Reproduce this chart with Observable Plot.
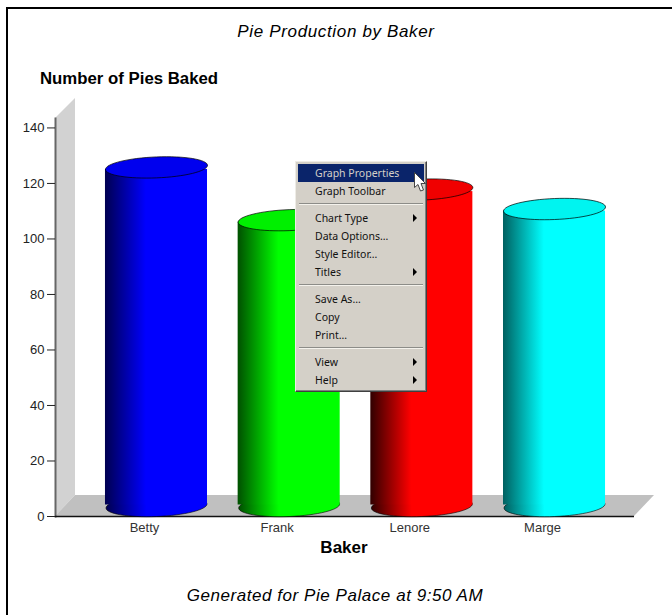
<!DOCTYPE html>
<html><head><meta charset="utf-8">
<script src="https://cdn.jsdelivr.net/npm/d3@7"></script>
<script src="https://cdn.jsdelivr.net/npm/@observablehq/plot@0.6"></script>
<style>
html,body{margin:0;padding:0;background:#fff}
#page{position:relative;width:672px;height:615px;overflow:hidden;font-family:"Liberation Sans",Arial,sans-serif;color:#000}
#page svg.plot{position:absolute;left:0;top:0}
.border{position:absolute;background:#000}
.t{position:absolute;font-size:17px;line-height:18px;white-space:nowrap}
.c{transform:translateX(-50%)}
#menu{position:absolute;left:295px;top:161px;width:132px;height:231px;box-sizing:border-box;background:#d4d0c8;
 border:1px solid;border-color:#eeece6 #404040 #404040 #eeece6;box-shadow:inset -1px -1px 0 #808080;
 font-family:"Noto Sans",sans-serif;font-size:10.5px;color:#111}
#menu div{position:absolute;white-space:nowrap;line-height:18px;height:18px}
#menu .sep{left:3px;right:3px;height:2px;background:#8c8c88;border-bottom:1px solid #f4f2ec;box-sizing:border-box}
#menu .hl{left:2px;right:2px;background:#0a246a;color:#d4d0c8}
#menu .arrow{width:0;height:0;border-left:4px solid #000;border-top:4px solid transparent;border-bottom:4px solid transparent;left:117px}
#cursor{position:absolute;left:414px;top:172px}
</style></head><body>
<div id="page"></div>
<script>
const bakers = ["Betty", "Frank", "Lenore", "Marge"];
const pies = [122, 103, 114, 107];
const colors = ["#0000ff", "#00ff00", "#ff0000", "#00ffff"];
const lids = ["#0000ee", "#00f000", "#f00000", "#00f4f0"];
const shades = ["#000050", "#005000", "#300000", "#006060"];
const yTicks = [0, 20, 40, 60, 80, 100, 120, 140];
const menuItems = [
  ["Graph Properties", 172.5, false], ["Graph Toolbar", 190.5, false],
  ["Chart Type", 217.5, true], ["Data Options\u2026", 235.5, false], ["Style Editor\u2026", 253.5, false], ["Titles", 271.5, true],
  ["Save As\u2026", 298.5, false], ["Copy", 316.5, false], ["Print\u2026", 334.5, false],
  ["View", 361.5, true], ["Help", 379.5, true]
];
const menuSeparators = [203, 284, 347];
const depthX = 20, depthY = 21, rx = 51, ry = 10.5, shear = 0.04;

const table = bakers.map((baker, i) => ({baker, value: pies[i], color: lids[i], grad: `url(#cyl${i})`}));

const ellipseOf = (a) => ({draw(c) {
  const k = 0.5523;
  const p = (x, y) => [x, y - shear * x];
  c.moveTo(...p(-a, 0));
  c.bezierCurveTo(...p(-a, -ry * k), ...p(-a * k, -ry), ...p(0, -ry));
  c.bezierCurveTo(...p(a * k, -ry), ...p(a, -ry * k), ...p(a, 0));
  c.bezierCurveTo(...p(a, ry * k), ...p(a * k, ry), ...p(0, ry));
  c.bezierCurveTo(...p(-a * k, ry), ...p(-a, ry * k), ...p(-a, 0));
  c.closePath();
}});

const defs = () => {
  const d = d3.create("svg:defs");
  table.forEach((t, i) => {
    const g = d.append("linearGradient").attr("id", `cyl${i}`);
    g.append("stop").attr("offset", 0).attr("stop-color", shades[i]);
    g.append("stop").attr("offset", 0.4).attr("stop-color", colors[i]);
    g.append("stop").attr("offset", 1).attr("stop-color", colors[i]);
  });
  return d.node();
};

const room = (index, {y}, values, {width, height, marginLeft, marginRight}) => {
  const g = d3.create("svg:g");
  const x0 = marginLeft, x1 = width - marginRight, y0 = y(0), yT = y(y.domain()[1]);
  g.append("polygon").attr("fill", "#d2d2d2")
    .attr("points", [[x0, y0], [x0 + depthX, y0 - depthY], [x0 + depthX, yT - depthY + 1], [x0, yT]].join(" "));
  g.append("polygon").attr("fill", "#c0c0c0")
    .attr("points", [[x0, y0], [x0 + depthX, y0 - depthY], [x1 + depthX, y0 - depthY], [x1, y0]].join(" "));
  return g.node();
};

const cx = {x: "baker", dx: 10.5, dy: -ry};
const chart = Plot.plot({
  width: 672, height: 615,
  marginLeft: 55, marginRight: 38, marginTop: 118, marginBottom: 99,
  style: {fontFamily: '"Liberation Sans",Arial,sans-serif', background: "transparent"},
  x: {type: "band", domain: bakers, round: false, paddingInner: 0.231, paddingOuter: 0.2975, label: null},
  y: {domain: [0, 143.4], label: null},
  color: {type: "identity"},
  marks: [
    defs, room,
    Plot.frame({anchor: "left", stroke: "#666", strokeWidth: 2}),
    Plot.ruleY([0], {stroke: "#111", strokeWidth: 1.5}),
    Plot.dot(table, {...cx, y: () => 0, r: 1, symbol: ellipseOf(rx - 0.5), fill: "grad", stroke: "#000", strokeOpacity: 0.6, strokeWidth: 1}),
    Plot.barY(table, {x: "baker", y: "value", dx: 10.5, dy: -ry, insetTop: 2, insetBottom: 1, fill: "grad"}),
    Plot.dot(table, {...cx, y: "value", r: 1, symbol: ellipseOf(rx), fill: "color", stroke: "#000", strokeOpacity: 0.7, strokeWidth: 1}),
    Plot.axisY({ticks: yTicks, tickSize: 8, tickPadding: 3, fontSize: 13, label: null, color: "#222", stroke: "#222"}),
    Plot.axisX({tickSize: 0, tickPadding: 6, fontSize: 13, label: null, dx: -1.5, color: "#333"})
  ]
});

const page = document.getElementById("page");
page.appendChild(chart);

function addText(txt, css, cls) {
  const d = document.createElement("div");
  d.className = "t " + (cls || "");
  d.textContent = txt;
  d.style.cssText = css;
  page.appendChild(d);
}
addText("Pie Production by Baker", "left:336px;top:23px;font-style:italic;letter-spacing:0.65px", "c");
addText("Number of Pies Baked", "left:40px;top:70px;font-weight:bold;font-size:16.8px");
addText("Baker", "left:344px;top:539px;font-weight:bold", "c");
addText("Generated for Pie Palace at 9:50 AM", "left:335px;top:587px;font-style:italic;letter-spacing:0.55px", "c");

for (const css of ["left:6px;top:7px;width:2px;height:608px", "left:6px;top:7px;width:666px;height:2px"]) {
  const b = document.createElement("div"); b.className = "border"; b.style.cssText = css; page.appendChild(b);
}

const menu = document.createElement("div");
menu.id = "menu";
menuItems.forEach(([label, cy, sub], i) => {
  const top = cy - 161 - 1 - 9;
  const row = document.createElement("div");
  row.textContent = label;
  row.style.cssText = `left:19px;top:${top}px`;
  if (i === 0) { row.className = "hl"; row.style.cssText = `top:${top}px;padding-left:17px`; }
  menu.appendChild(row);
  if (sub) {
    const a = document.createElement("div");
    a.className = "arrow";
    a.style.top = (cy - 161 - 1 - 4) + "px";
    menu.appendChild(a);
  }
});
menuSeparators.forEach(y => {
  const s = document.createElement("div");
  s.className = "sep";
  s.style.top = (y - 161 - 1) + "px";
  menu.appendChild(s);
});
page.appendChild(menu);
page.insertAdjacentHTML("beforeend", `<svg id="cursor" width="16" height="22" viewBox="0 0 16 22"><path d="M0.5 0.5 L0.5 15.5 L4 12.5 L6.5 19 L9.5 18 L7 11.5 L11.5 11.5 Z" fill="#fff" stroke="#444" stroke-width="1"/></svg>`);
</script>
</body></html>
